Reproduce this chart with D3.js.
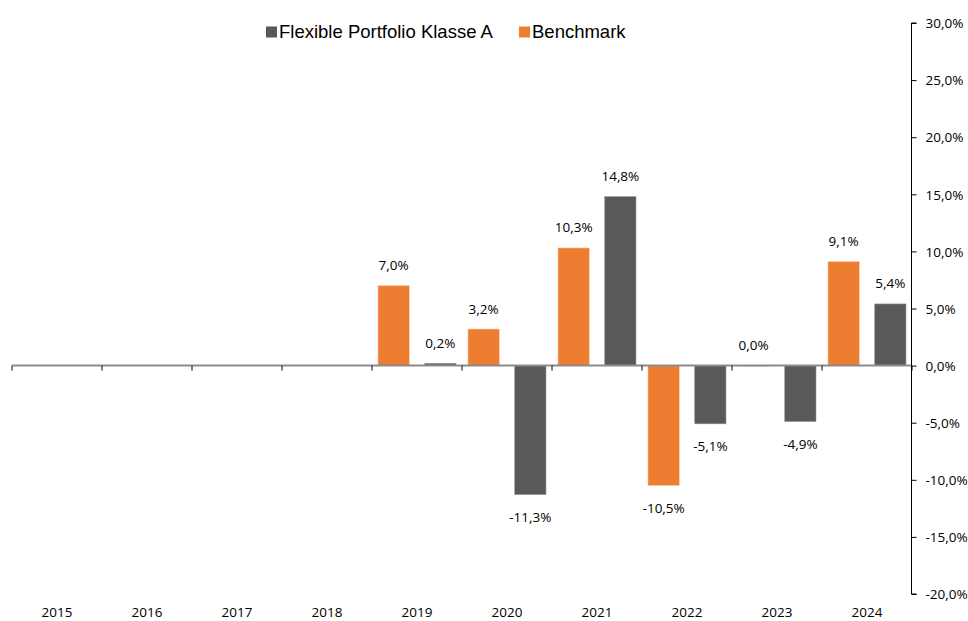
<!DOCTYPE html>
<html lang="de">
<head>
    <meta charset="UTF-8">
    <title>Flexible Portfolio Klasse A vs. Benchmark</title>
    <style>
        body, html {
            margin: 0;
            padding: 0;
            background: #ffffff;
            overflow: hidden;
        }

        svg {
            display: block;
        }

        .lbl {
            font-family: "Open Sans", sans-serif;
            font-size: 13.5px;
            fill: #000;
        }

        .legend text {
            font-family: "Liberation Sans", Arial, sans-serif;
            font-size: 18.5px;
            fill: #000;
        }
    </style>
</head>
<body>
    <div id="chart"></div>

    <script src="https://d3js.org/d3.v7.min.js"></script>
    <script>
        // data
        const years = ["2015", "2016", "2017", "2018", "2019", "2020", "2021", "2022", "2023", "2024"];
        const fund = [null, null, null, null, 0.2, -11.3, 14.8, -5.1, -4.9, 5.4];
        const benchmark = [null, null, null, null, 7.0, 3.2, 10.3, -10.5, 0.0, 9.1];
        const yTicks = [30, 25, 20, 15, 10, 5, 0, -5, -10, -15, -20];

        const series = [
            { key: "bench", name: "Benchmark", color: "#ED7D31", edge: "#f6c7a5", values: benchmark },
            { key: "fund", name: "Flexible Portfolio Klasse A", color: "#595959", edge: "#9a9a9a", values: fund }
        ];

        const width = 968;
        const height = 621;

        const svg = d3.select("#chart").append("svg")
            .attr("width", width)
            .attr("height", height);

        const x0 = d3.scaleBand()
            .domain(years)
            .range([12, 912]);

        const x1 = d3.scaleBand()
            .domain(series.map(s => s.key))
            .range([6, 84])
            .paddingInner(0.33);

        const y = d3.scaleLinear()
            .domain([-20, 30])
            .range([594, 23]);

        // german style: comma decimal, plain hyphen for minus
        const locale = d3.formatLocale({ decimal: ",", thousands: ".", grouping: [3], currency: ["", " €"], minus: "-" });
        const fmt = v => locale.format(".1f")(v) + "%";

        // bars
        series.forEach(s => {
            const pts = years.map((yr, i) => ({ yr, v: s.values[i] })).filter(d => d.v !== null);

            svg.append("g").selectAll("rect")
                .data(pts)
                .enter().append("rect")
                .attr("x", d => x0(d.yr) + x1(s.key))
                .attr("width", x1.bandwidth())
                .attr("y", d => y(Math.max(0, d.v)))
                .attr("height", d => Math.max(0.5, Math.abs(y(d.v) - y(0))))
                .attr("fill", s.color)
                .attr("stroke", s.edge)
                .attr("stroke-width", 0.6);

            svg.append("g").selectAll("text")
                .data(pts)
                .enter().append("text")
                .attr("class", "lbl")
                .attr("text-anchor", "middle")
                .attr("x", d => x0(d.yr) + x1(s.key) + x1.bandwidth() / 2)
                .attr("y", d => d.v >= 0 ? y(d.v) - 15.5 : y(d.v) + 27)
                .text(d => fmt(d.v));
        });

        // x axis (zero line)
        const xAxis = svg.append("g");
        xAxis.append("line")
            .attr("x1", x0.range()[0])
            .attr("x2", x0.range()[1])
            .attr("y1", y(0))
            .attr("y2", y(0))
            .attr("stroke", "#8c8c8c")
            .attr("stroke-width", 2);

        xAxis.selectAll("line.tick")
            .data(years.concat([null]))
            .enter().append("line")
            .attr("class", "tick")
            .attr("x1", (d, i) => x0.range()[0] + i * x0.step())
            .attr("x2", (d, i) => x0.range()[0] + i * x0.step())
            .attr("y1", y(0))
            .attr("y2", y(0) + 5)
            .attr("stroke", "#000")
            .attr("stroke-width", 1);

        svg.append("g").selectAll("text")
            .data(years)
            .enter().append("text")
            .attr("class", "lbl")
            .attr("text-anchor", "middle")
            .attr("x", d => x0(d) + x0.bandwidth() / 2)
            .attr("y", 617)
            .text(d => d);

        // y axis on the right
        const yAxis = svg.append("g")
            .attr("transform", `translate(911.5,0)`)
            .call(d3.axisRight(y).tickValues(yTicks).tickSize(5).tickFormat(fmt));

        yAxis.select(".domain")
            .attr("d", `M5,${y(30)}H0V${y(-20)}H5`)
            .attr("stroke", "#000");
        yAxis.selectAll(".tick line").attr("stroke", "#000");
        yAxis.selectAll(".tick text")
            .attr("class", "lbl")
            .attr("x", 14)
            .attr("dy", "0.35em")
            .attr("text-anchor", "start");

        // legend
        const legendItems = [series[1], series[0]];
        const legendX = [266, 519];
        const legend = svg.append("g").attr("class", "legend");

        legendItems.forEach((s, i) => {
            legend.append("rect")
                .attr("x", legendX[i])
                .attr("y", 26.5)
                .attr("width", 11)
                .attr("height", 11)
                .attr("fill", s.color);
            legend.append("text")
                .attr("x", legendX[i] + 13)
                .attr("y", 37.5)
                .text(s.name);
        });
    </script>
</body>
</html>
